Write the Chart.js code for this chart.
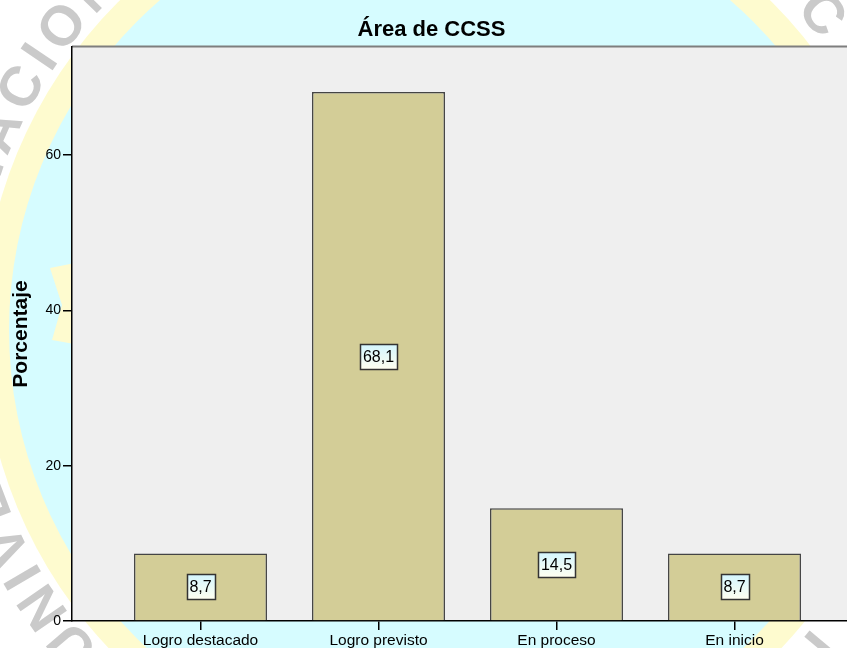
<!DOCTYPE html>
<html><head><meta charset="utf-8">
<script src="https://cdn.jsdelivr.net/npm/chart.js@4/dist/chart.umd.min.js"></script>
<style>html,body{margin:0;padding:0;overflow:hidden;background:#fff;width:847px;height:648px}canvas{display:block}</style>
</head><body>
<canvas id="c" width="880" height="648" style="width:880px;height:648px"></canvas>
<script>
const chartTitle = 'Área de CCSS';
const yAxisTitle = 'Porcentaje';
const categories = ['Logro destacado', 'Logro previsto', 'En proceso', 'En inicio'];
const percentages = [8.7, 68.1, 14.5, 8.7];
const yTicks = [0, 20, 40, 60];
const yMax = 73.9;

const FONT = '"Liberation Sans", Arial, sans-serif';

function drawArcText(ctx, cx, cy, r, text, anchorIndex, anchorDeg, spacing) {
  const sp = spacing || 0;
  const widths = [...text].map(ch => ctx.measureText(ch).width + sp);
  let off = 0;
  for (let i = 0; i < anchorIndex; i++) off += widths[i];
  off += widths[anchorIndex] / 2;
  let pos = anchorDeg * Math.PI / 180 - off / r;
  [...text].forEach((ch, i) => {
    const t = pos + widths[i] / 2 / r;
    ctx.save();
    ctx.translate(cx + r * Math.cos(t), cy + r * Math.sin(t));
    ctx.rotate(t + Math.PI / 2);
    ctx.fillText(ch, 0, 0);
    ctx.restore();
    pos += widths[i] / r;
  });
}

const watermark = {
  id: 'watermark',
  beforeDraw(chart) {
    const ctx = chart.ctx;
    const cx = 445, cy = 330;
    ctx.save();
    ctx.fillStyle = '#ffffff';
    ctx.fillRect(0, 0, chart.width, chart.height);
    ctx.fillStyle = '#FEFBCF';
    ctx.beginPath(); ctx.arc(cx, cy, 463, 0, Math.PI * 2); ctx.fill();
    ctx.fillStyle = '#D6FCFF';
    ctx.beginPath(); ctx.arc(cx, cy, 436, 0, Math.PI * 2); ctx.fill();
    ctx.fillStyle = '#FEFBCF';
    ctx.beginPath();
    ctx.moveTo(50, 268); ctx.lineTo(80, 262); ctx.lineTo(80, 345); ctx.lineTo(52, 340);
    ctx.lineTo(62, 305); ctx.closePath(); ctx.fill();
    ctx.font = 'bold 56px ' + FONT;
    ctx.fillStyle = '#CACACA';
    ctx.textAlign = 'center';
    ctx.textBaseline = 'middle';
    drawArcText(ctx, cx, cy, 486, 'UNIVERSIDAD NACIONAL', 15, 214, 8);
    drawArcText(ctx, cx, cy, 490, 'C', 0, 320);
    drawArcText(ctx, cx, cy, 488, 'I', 0, 40);
    // plot background
    const a = chart.chartArea;
    ctx.fillStyle = '#EFEFEF';
    ctx.fillRect(a.left, a.top, a.right - a.left, a.bottom - a.top);
    ctx.strokeStyle = '#7E7E7E';
    ctx.lineWidth = 2;
    ctx.beginPath(); ctx.moveTo(a.left, a.top - 0.5); ctx.lineTo(a.right, a.top - 0.5); ctx.stroke();
    ctx.restore();
  }
};

const valueLabels = {
  id: 'valueLabels',
  afterDatasetsDraw(chart) {
    const ctx = chart.ctx;
    const meta = chart.getDatasetMeta(0);
    ctx.save();
    ctx.font = '16px ' + FONT;
    ctx.textAlign = 'center';
    ctx.textBaseline = 'middle';
    meta.data.forEach((bar, i) => {
      const txt = percentages[i].toFixed(1).replace('.', ',');
      const cyv = (bar.y + bar.base) / 2;
      const w = Math.round(ctx.measureText(txt).width + 6);
      const h = 25;
      const x0 = Math.round(bar.x - w / 2) + 0.5, y0 = Math.round(cyv - h / 2) + 0.5;
      const g = ctx.createLinearGradient(0, y0, 0, y0 + h);
      g.addColorStop(0, '#D4F6FF');
      g.addColorStop(1, '#FFFFF0');
      ctx.fillStyle = g;
      ctx.fillRect(x0, y0, w, h);
      ctx.strokeStyle = '#333333';
      ctx.lineWidth = 1.5;
      ctx.strokeRect(x0, y0, w, h);
      ctx.fillStyle = '#000';
      ctx.fillText(txt, bar.x, cyv + 1);
    });
    ctx.restore();
  }
};

const pxFirstCenter = 128.5, pxStep = 178, plotWidth = 791;
const xMin = 1 - pxFirstCenter / pxStep;
const xMax = xMin + plotWidth / pxStep;

new Chart(document.getElementById('c'), {
  type: 'bar',
  data: {
    datasets: [{
      data: percentages.map((v, i) => ({ x: i + 1, y: v })),
      backgroundColor: '#D3CD97',
      borderColor: '#444444',
      borderWidth: 1.5,
      categoryPercentage: 1,
      barPercentage: 0.747
    }]
  },
  options: {
    responsive: false,
    animation: false,
    layout: { padding: { left: 0, right: 17, top: 0, bottom: 0 } },
    plugins: {
      legend: { display: false },
      tooltip: { enabled: false },
      title: {
        display: true, text: chartTitle, color: '#000',
        font: { family: FONT, size: 22, weight: 'bold' },
        padding: { top: 17, bottom: 3.6 }
      }
    },
    scales: {
      x: {
        type: 'linear', min: xMin, max: xMax, offset: false,
        afterBuildTicks: s => { s.ticks = categories.map((c, i) => ({ value: i + 1 })); },
        afterFit: s => { s.height = 27; },
        grid: { offset: false, drawOnChartArea: false, drawTicks: true, tickLength: 9, color: '#000', lineWidth: 1.5 },
        border: { display: true, color: '#000', width: 1.5 },
        ticks: {
          autoSkip: false, maxRotation: 0, padding: 1, color: '#000',
          font: { family: FONT, size: 15.5 },
          callback: (v, i) => categories[i]
        }
      },
      y: {
        min: 0, max: yMax,
        afterBuildTicks: s => { s.ticks = yTicks.map(v => ({ value: v })); },
        afterFit: s => { s.width = 72; },
        grid: { drawOnChartArea: false, drawTicks: true, tickLength: 9, color: '#000', lineWidth: 1.5 },
        border: { display: true, color: '#000', width: 1.5 },
        ticks: { padding: 2, color: '#000', font: { family: FONT, size: 14 } },
        title: {
          display: true, text: yAxisTitle, color: '#000',
          font: { family: FONT, size: 21, weight: 'bold' },
          padding: { top: 9, bottom: 0 }
        }
      }
    }
  },
  plugins: [watermark, valueLabels]
});
</script>
</body></html>
